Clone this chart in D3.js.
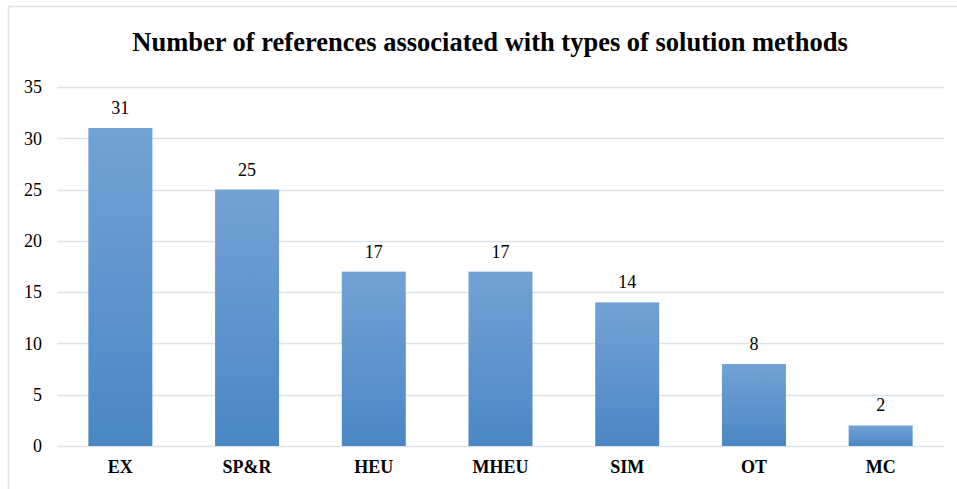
<!DOCTYPE html>
<html>
<head>
<meta charset="utf-8">
<script src="https://cdn.jsdelivr.net/npm/d3@7"></script>
</head>
<body style="margin:0;background:#fff">
<div id="chart"></div>
<script>
// chart data
var categories = ["EX", "SP&R", "HEU", "MHEU", "SIM", "OT", "MC"];
var counts = [31, 25, 17, 17, 14, 8, 2];
var yTicks = [0, 5, 10, 15, 20, 25, 30, 35];
var chartTitle = "Number of references associated with types of solution methods";

var width = 957, height = 489;
var margin = {top: 87, right: 13, bottom: 43, left: 57};
var fontSerif = "Liberation Serif";

var svg = d3.select("#chart").append("svg")
  .attr("width", width)
  .attr("height", height);

// gradient fill for the bars, light at the top
var grad = svg.append("defs").append("linearGradient")
  .attr("id", "barGrad")
  .attr("x1", 0).attr("y1", 0).attr("x2", 0).attr("y2", 1);
grad.append("stop").attr("offset", "0%").attr("stop-color", "#73a2d5");
grad.append("stop").attr("offset", "100%").attr("stop-color", "#4a87c4");

// outer frame (top and left edges visible)
svg.append("path")
  .attr("d", "M8.5," + height + "V6.5H" + width)
  .attr("fill", "none")
  .attr("stroke", "#dde3ea")
  .attr("stroke-width", 1.5);

var x = d3.scaleBand()
  .domain(categories)
  .range([margin.left, width - margin.right])
  .paddingInner(0.495)
  .paddingOuter(0.2475);

var y = d3.scaleLinear()
  .domain([0, 35])
  .range([height - margin.bottom, margin.top]);

// gridlines
svg.append("g")
  .selectAll("line")
  .data(yTicks)
  .enter().append("line")
  .attr("x1", margin.left)
  .attr("x2", width - margin.right)
  .attr("y1", function(d) { return Math.round(y(d)) + 0.5; })
  .attr("y2", function(d) { return Math.round(y(d)) + 0.5; })
  .attr("stroke", "#dde3ea")
  .attr("stroke-width", 1.5);

// y tick labels
var yAxis = d3.axisLeft(y).tickValues(yTicks).tickSize(0).tickPadding(15);
var yg = svg.append("g")
  .attr("transform", "translate(" + margin.left + ",0)")
  .call(yAxis);
yg.select(".domain").remove();
yg.selectAll("text")
  .attr("font-family", fontSerif)
  .attr("font-size", 18)
  .attr("fill", "#000");

// bars
svg.append("g")
  .selectAll("rect")
  .data(counts)
  .enter().append("rect")
  .attr("x", function(d, i) { return x(categories[i]); })
  .attr("y", function(d) { return y(d); })
  .attr("width", x.bandwidth())
  .attr("height", function(d) { return y(0) - y(d); })
  .attr("fill", "url(#barGrad)");

// value labels
svg.append("g")
  .selectAll("text")
  .data(counts)
  .enter().append("text")
  .attr("x", function(d, i) { return x(categories[i]) + x.bandwidth() / 2; })
  .attr("y", function(d) { return y(d) - 14; })
  .attr("text-anchor", "middle")
  .attr("font-family", fontSerif)
  .attr("font-size", 18)
  .attr("fill", "#000")
  .text(function(d) { return d; });

// x category labels
var xAxis = d3.axisBottom(x).tickSize(0).tickPadding(14);
var xg = svg.append("g")
  .attr("transform", "translate(0," + y(0) + ")")
  .call(xAxis);
xg.select(".domain").remove();
xg.selectAll("text")
  .attr("font-family", fontSerif)
  .attr("font-size", 18)
  .attr("font-weight", "bold")
  .attr("fill", "#000");

// title
svg.append("text")
  .attr("x", 490)
  .attr("y", 51)
  .attr("text-anchor", "middle")
  .attr("font-family", fontSerif)
  .attr("font-size", 26.5)
  .attr("font-weight", "bold")
  .attr("fill", "#000")
  .text(chartTitle);
</script>
</body>
</html>
